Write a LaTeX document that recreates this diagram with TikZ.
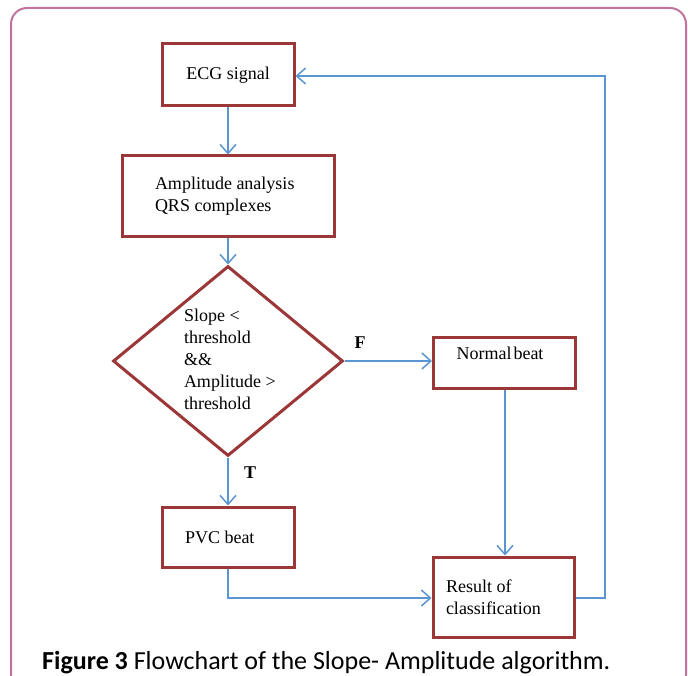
\documentclass[tikz,border=0pt]{standalone}
\usepackage{fontspec}
\setmainfont{Liberation Serif}
\newfontfamily\capfont{Carlito}
\usetikzlibrary{arrows.meta,shapes.geometric}
\definecolor{boxred}{RGB}{155,55,55}
\definecolor{flowblue}{RGB}{91,150,210}
\definecolor{framepink}{RGB}{192,115,155}
\tikzset{
  procbox/.style={draw=boxred, line width=3pt, rectangle, inner sep=0pt, font=\fontsize{18}{22}\selectfont},
  flow/.style={draw=flowblue, line width=1.5pt, -{Straight Barb[length=9pt,width=16pt,line width=1.5pt]}},
  lbl/.style={font=\fontsize{18}{22}\selectfont\bfseries, inner sep=0pt}
}
\begin{document}
\begin{tikzpicture}[x=1pt,y=-1pt]
\useasboundingbox (0,0) rectangle (688,676);
\begin{scope}
\clip (0,0) rectangle (688,676);
\draw[framepink, line width=2pt, rounded corners=16pt] (11,8) rectangle (686,690);
\end{scope}
% boxes
\node[procbox, minimum width=132pt, minimum height=62pt] (ecg) at (228,75) {ECG signal};
\node[procbox, minimum width=212pt, minimum height=81pt, text width=146pt, inner xsep=33pt, align=flush left] (amp) at (228,196.5) {Amplitude analysis\\QRS complexes};
\node[draw=boxred, line width=3pt, diamond, minimum width=230pt, minimum height=190pt, inner sep=0pt] (dec) at (228,361) {};
\node[font=\fontsize{18}{22}\selectfont, text width=110pt, align=flush left, inner sep=0pt] (dtext) at (239,359) {Slope <\\threshold\\\&\&\\Amplitude >\\threshold};
\node[procbox, minimum width=142pt, minimum height=51pt, anchor=north west] (normal) at (432,336) {};
\node[font=\fontsize{18}{22}\selectfont, inner sep=0pt, anchor=base] (normaltext) at (500,359) {Normal\hspace{2pt}beat};
\node[procbox, minimum width=132pt, minimum height=60pt, text width=86pt, inner xsep=23pt, align=flush left] (pvc) at (228,537) {PVC beat};
\node[procbox, minimum width=141pt, minimum height=80pt, text width=115pt, inner xsep=13pt, align=flush left] (res) at (503.5,597) {Result of\\classification};
% connectors
\draw[flow] (ecg.south) -- (amp.north);
\draw[flow] (amp.south) -- (dec.north);
\draw[flow] (dec.east) -- (normal.west |- dec.east);
\draw[flow] (dec.south) -- (pvc.north);
\draw[flow] (normal.south -| 505,0) -- (res.north -| 505,0);
\coordinate (pvcturn) at (228,598);
\draw[flow] (pvc.south) -- (pvcturn) -- (res.west |- pvcturn);
\coordinate (rtop) at (605,76);
\draw[flow] (res.east |- 0,598) -| (rtop) -- (ecg.east |- rtop);
% labels
\node[lbl] (flbl) at (360,343) {F};
\node[lbl] (tlbl) at (250,473) {T};
% caption
\node[anchor=base west, inner sep=0pt, font=\fontsize{26}{30}\selectfont\capfont] (cap) at (42,669) {\textbf{Figure 3} Flowchart of the Slope- Amplitude algorithm.};
\end{tikzpicture}
\end{document}
